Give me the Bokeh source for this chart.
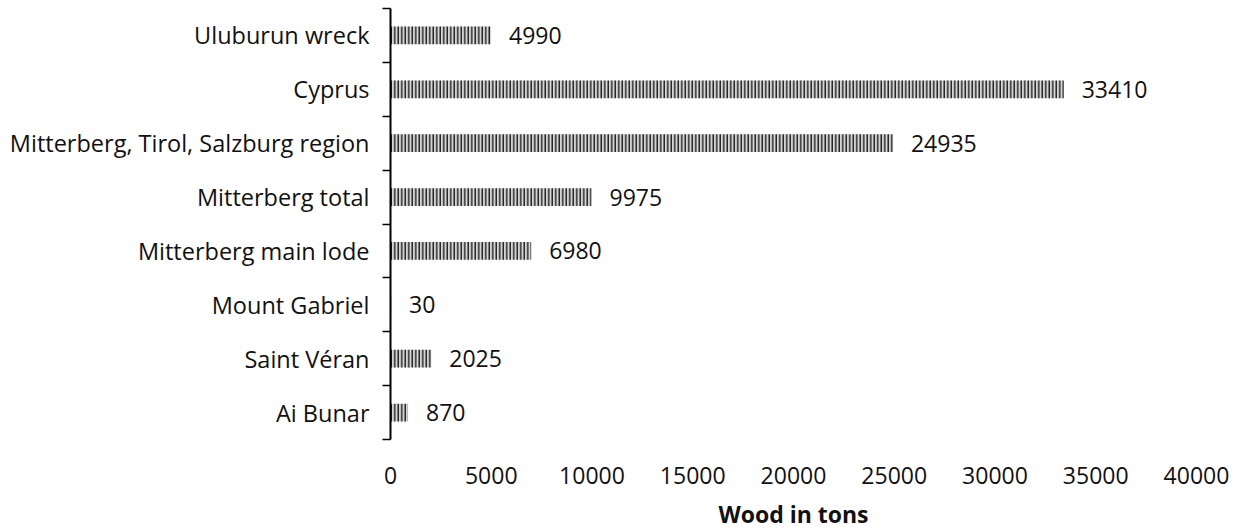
from bokeh.plotting import figure
from bokeh.models import FixedTicker, ColumnDataSource, Range1d
from bokeh.core.properties import value
from bokeh.embed import file_html
from bokeh.resources import INLINE

categories = ["Uluburun wreck", "Cyprus", "Mitterberg, Tirol, Salzburg region",
              "Mitterberg total", "Mitterberg main lode", "Mount Gabriel",
              "Saint Véran", "Ai Bunar"]
wood_tons = [4990, 33410, 24935, 9975, 6980, 30, 2025, 870]
x_ticks = [0, 5000, 10000, 15000, 20000, 25000, 30000, 35000, 40000]

n = len(categories)
ypos = [n - i for i in range(n)]  # top category highest
src = ColumnDataSource(dict(y=ypos, v=wood_tons, lab=[str(v) for v in wood_tons]))

FONT = "Open Sans"
FS = "23px"

p = figure(width=1236, height=532, output_backend="svg", toolbar_location=None,
           x_range=Range1d(0, 40000), y_range=Range1d(0.5, n + 0.5),
           min_border_left=390, min_border_right=40, min_border_top=8, min_border_bottom=92)
p.outline_line_color = None
p.grid.visible = False

p.hbar(y="y", right="v", left=0, height=0.33, source=src,
       fill_color="#d4d4d4", line_color=None,
       hatch_pattern="vertical_line", hatch_color="black", hatch_scale=3.5, hatch_weight=1.2)

p.text(x="v", y="y", text="lab", source=src, x_offset=18,
       text_align="left", text_baseline="middle",
       text_font=value(FONT), text_font_size=FS, text_color="#111111")

# y axis: labels at centers, ticks at boundaries
p.yaxis.ticker = FixedTicker(ticks=ypos, minor_ticks=[i + 0.5 for i in range(n + 1)])
p.yaxis.major_label_overrides = {y: c for y, c in zip(ypos, categories)}
p.yaxis.major_tick_out = 0
p.yaxis.major_tick_in = 0
p.yaxis.minor_tick_out = 8
p.yaxis.minor_tick_in = 0
p.yaxis.minor_tick_line_color = "black"
p.yaxis.minor_tick_line_width = 1.5
p.yaxis.axis_line_color = "black"
p.yaxis.axis_line_width = 2
p.yaxis.major_label_standoff = 13
p.yaxis.major_label_text_font = FONT
p.yaxis.major_label_text_font_size = "23.5px"
p.yaxis.major_label_text_color = "#111111"

# x axis
p.xaxis.ticker = FixedTicker(ticks=x_ticks)
p.xaxis.axis_line_color = None
p.xaxis.major_tick_line_color = None
p.xaxis.minor_tick_line_color = None
p.xaxis.major_label_standoff = 21
p.xaxis.major_label_text_font = FONT
p.xaxis.major_label_text_font_size = FS
p.xaxis.major_label_text_color = "#111111"
p.xaxis.axis_label = "Wood in tons"
p.xaxis.axis_label_standoff = 11
p.xaxis.axis_label_text_font = FONT
p.xaxis.axis_label_text_font_size = FS
p.xaxis.axis_label_text_font_style = "bold"
p.xaxis.axis_label_text_color = "#111111"

open("out.html", "w").write(file_html(p, INLINE))
